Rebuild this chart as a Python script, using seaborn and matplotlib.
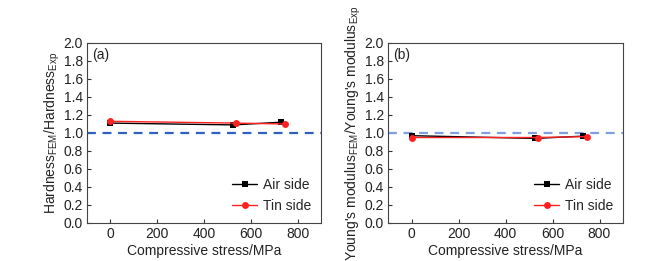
import matplotlib
matplotlib.use("Agg")
import matplotlib.pyplot as plt
import seaborn as sns
import pandas as pd

sns.set_style("ticks")
plt.rcParams['font.family'] = ['Liberation Sans', 'DejaVu Sans']
plt.rcParams['mathtext.fontset'] = 'custom'
plt.rcParams['mathtext.rm'] = 'Liberation Sans'

# Panel (a) hardness ratio
air_x_a = [0, 525, 730]
air_y_a = [1.11, 1.09, 1.12]
tin_x_a = [0, 537, 745]
tin_y_a = [1.13, 1.11, 1.10]

# Panel (b) Young's modulus ratio
air_x_b = [0, 525, 730]
air_y_b = [0.97, 0.94, 0.965]
tin_x_b = [0, 537, 745]
tin_y_b = [0.95, 0.95, 0.96]

series_names = ["Air side", "Tin side"]
panel_labels = ["(a)", "(b)"]
ylabels = [r"Hardness$_{\mathregular{FEM}}$/Hardness$_{\mathregular{Exp}}$",
           r"Young's modulus$_{\mathregular{FEM}}$/Young's modulus$_{\mathregular{Exp}}$"]
xlabel = "Compressive stress/MPa"
yticks = [0.0, 0.2, 0.4, 0.6, 0.8, 1.0, 1.2, 1.4, 1.6, 1.8, 2.0]
xticks = [0, 200, 400, 600, 800]
ref_colors = ['#2f5fc0', '#7f9fdf']

fig = plt.figure(figsize=(6.55, 2.61), dpi=100)
axes = [fig.add_axes([87/655, 38/261, 234/655, 180/261]),
        fig.add_axes([388/655, 38/261, 235/655, 180/261])]

data = [(air_x_a, air_y_a, tin_x_a, tin_y_a), (air_x_b, air_y_b, tin_x_b, tin_y_b)]
for i, ax in enumerate(axes):
    ax_x, ax_y, tx, ty = data[i]
    df = pd.concat([
        pd.DataFrame({"x": ax_x, "y": ax_y, "s": series_names[0]}),
        pd.DataFrame({"x": tx, "y": ty, "s": series_names[1]}),
    ])
    ax.axhline(1.0, color=ref_colors[i], ls=(0, (4, 3)), lw=1.6, zorder=1)
    sns.lineplot(data=df, x="x", y="y", hue="s", style="s",
                 palette={"Air side": "black", "Tin side": "#ff2020"},
                 markers={"Air side": "s", "Tin side": "o"}, dashes=False,
                 markersize=5, linewidth=1, markeredgewidth=0, ax=ax,
                 sort=False, estimator=None, zorder=3)
    ax.set_xlim(-100, 900)
    ax.set_ylim(0, 2.0)
    ax.set_xticks(xticks)
    ax.set_yticks(yticks)
    ax.set_yticklabels([f"{v:.1f}" for v in yticks])
    ax.tick_params(direction='in', length=3, width=0.8, labelsize=10, colors='#333333',
                   labelcolor='#222222', pad=3)
    for sp in ax.spines.values():
        sp.set_color('#444444')
        sp.set_linewidth(0.8)
    ax.set_xlabel(xlabel, fontsize=10, color='#222222', labelpad=2)
    ax.set_ylabel(ylabels[i], fontsize=10, color='#222222', labelpad=1)
    ax.text(0.02, 0.97, panel_labels[i], transform=ax.transAxes, fontsize=10,
            va='top', ha='left', color='#222222')
    leg = ax.legend(loc='lower right', frameon=False, fontsize=10, handlelength=1.8,
                    handletextpad=0.4, labelspacing=0.55, borderaxespad=0.3)

fig.savefig("out.png", dpi=100)
